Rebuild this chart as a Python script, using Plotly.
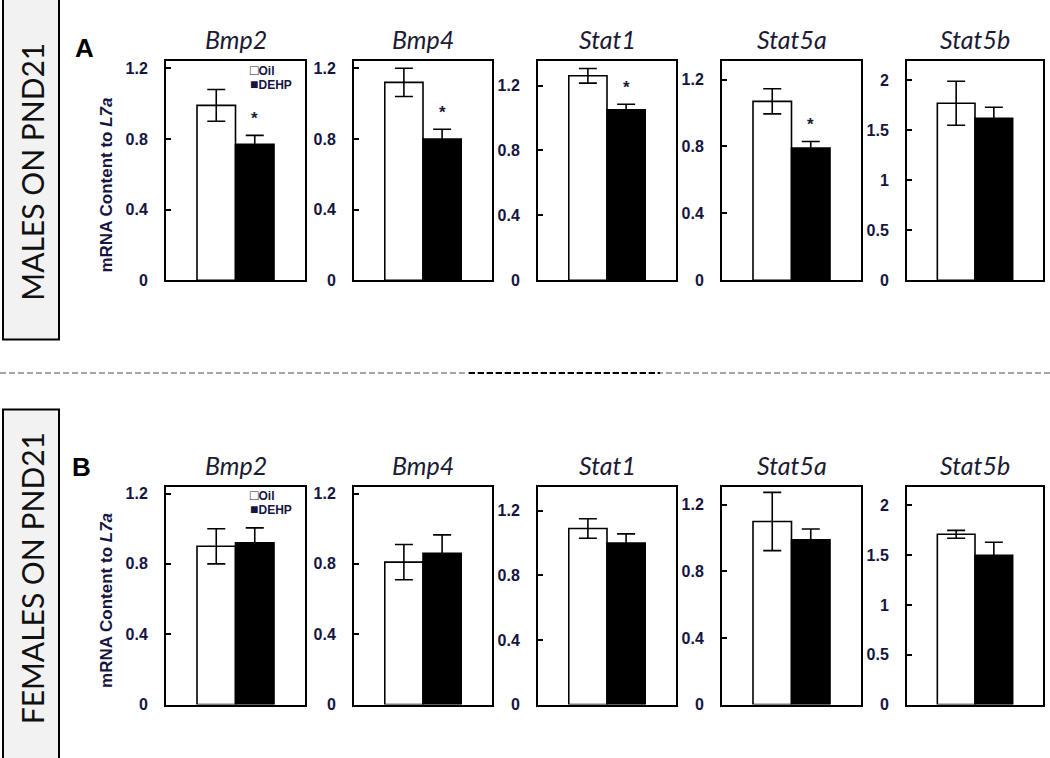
import plotly.graph_objects as go

# ---------------- data ----------------
genes = ["Bmp2", "Bmp4", "Stat1", "Stat5a", "Stat5b"]

males_oil = [0.99, 1.12, 1.26, 1.07, 1.77]
males_oil_err = [0.09, 0.08, 0.045, 0.075, 0.22]
males_dehp = [0.77, 0.80, 1.05, 0.79, 1.62]
males_dehp_err = [0.05, 0.055, 0.035, 0.04, 0.11]
males_sig = [True, True, True, True, False]

females_oil = [0.90, 0.81, 1.09, 1.10, 1.71]
females_oil_err = [0.10, 0.10, 0.06, 0.175, 0.04]
females_dehp = [0.92, 0.86, 1.00, 0.99, 1.50]
females_dehp_err = [0.085, 0.105, 0.057, 0.065, 0.13]
females_sig = [False, False, False, False, False]

y_max = [1.24, 1.24, 1.35, 1.31, 2.19]
y_ticks = [[0, 0.4, 0.8, 1.2]] * 4 + [[0, 0.5, 1, 1.5, 2]]

row_labels = ["MALES ON PND21", "FEMALES ON PND21"]
panel_letters = ["A", "B"]
series_names = ["Oil", "DEHP"]
y_title = "<b>mRNA Content to <i>L7a</i></b>"

# ---------------- layout geometry (pixels) ----------------
W, H = 1050, 758
frame_x = [(166, 305), (354, 492), (538, 676), (722, 861), (907, 1043)]
row_y = [(61, 283), (492, 713)]
y_title_center = [187, 608]
letter_pos = [(84, 48), (81, 472)]
box_spans = [(-10, 343), (414, 770)]
box_label_center = [173, 585]
BARGAP = 0.446

def px_x(x):
    return x / W

def px_y(y):
    return 1 - y / H

SANS = "Arial"
TICK_COLOR = "#15153f"
TICK_FONT = dict(family=SANS, size=16, color=TICK_COLOR, weight="bold")
TITLE_FONT = dict(family="Lato", size=25, color="#1b1b33", style="italic")

fig = go.Figure()
annotations = []
shapes = []

rows = [
    (males_oil, males_oil_err, males_dehp, males_dehp_err, males_sig),
    (females_oil, females_oil_err, females_dehp, females_dehp_err, females_sig),
]

layout_axes = {}
for r, (oil, oil_e, dehp, dehp_e, sig) in enumerate(rows):
    y0, y1 = row_y[r]
    for i, g in enumerate(genes):
        n = r * 5 + i + 1
        xa = f"x{n}"
        ya = f"y{n}"
        fig.add_trace(go.Bar(
            x=[g], y=[oil[i]], name=series_names[0], xaxis=xa, yaxis=ya,
            marker=dict(color="white", line=dict(color="black", width=1.6)),
            error_y=dict(type="data", array=[oil_e[i]], color="black", thickness=1.6, width=9),
            showlegend=False, offsetgroup="oil",
        ))
        fig.add_trace(go.Bar(
            x=[g], y=[dehp[i]], name=series_names[1], xaxis=xa, yaxis=ya,
            marker=dict(color="black", line=dict(color="black", width=1.6)),
            error_y=dict(type="data", array=[dehp_e[i]], color="black", thickness=1.6, width=9),
            showlegend=False, offsetgroup="dehp",
        ))
        fx0, fx1 = frame_x[i]
        suffix = "" if n == 1 else str(n)
        layout_axes["xaxis" + suffix] = dict(
            domain=[px_x(fx0), px_x(fx1)], anchor=ya, type="category",
            range=[-0.5, 0.5], showline=True, mirror=True, linecolor="black",
            linewidth=2, ticks="", showticklabels=False, showgrid=False,
            zeroline=False, fixedrange=True,
        )
        layout_axes["yaxis" + suffix] = dict(
            domain=[px_y(y1), px_y(y0)], anchor=xa, range=[0, y_max[i]],
            tickvals=y_ticks[i], ticks="inside", ticklen=5, tickwidth=1.5,
            tickcolor="black", showline=True, mirror=True, linecolor="black",
            linewidth=2, showgrid=False, zeroline=False, tickfont=TICK_FONT,
            ticklabelstandoff=13, fixedrange=True,
        )
        # gene title
        annotations.append(dict(
            text=g, x=px_x((fx0 + fx1) / 2), y=px_y(y0 - 22), xref="paper", yref="paper",
            xanchor="center", yanchor="middle", showarrow=False, font=TITLE_FONT,
        ))
        # significance asterisk above the DEHP bar
        if sig[i]:
            annotations.append(dict(
                text="<b>*</b>", x=(1 - BARGAP) / 4, y=dehp[i] + dehp_e[i],
                xref=xa, yref=ya, xanchor="center", yanchor="bottom", yshift=5,
                showarrow=False, font=dict(family=SANS, size=17, color="#1b1b33"),
            ))

    # y-axis title on first panel of the row
    annotations.append(dict(
        text=y_title, x=px_x(107), y=px_y(y_title_center[r]), xref="paper", yref="paper",
        xanchor="center", yanchor="middle", textangle=-90, showarrow=False,
        font=dict(family=SANS, size=17, color="#15153f"),
    ))
    # legend (inside first panel)
    annotations.append(dict(
        text="<b><span style='font-size:14px'>□</span>Oil</b>", x=px_x(248), y=px_y(y0 + 9),
        xref="paper", yref="paper", xanchor="left", yanchor="middle", showarrow=False,
        font=dict(family=SANS, size=12, color="#15153f"),
    ))
    annotations.append(dict(
        text="<b><span style='font-size:14px'>■</span>DEHP</b>", x=px_x(248), y=px_y(y0 + 23),
        xref="paper", yref="paper", xanchor="left", yanchor="middle", showarrow=False,
        font=dict(family=SANS, size=12, color="#15153f"),
    ))
    # panel letter
    lx, ly = letter_pos[r]
    annotations.append(dict(text=f"<b>{panel_letters[r]}</b>", x=px_x(lx), y=px_y(ly),
                            xref="paper", yref="paper", xanchor="center", yanchor="middle",
                            showarrow=False, font=dict(family=SANS, size=26, color="black")))
    # side box with row label
    b0, b1 = box_spans[r]
    shapes.append(dict(type="rect", xref="paper", yref="paper", x0=px_x(3), x1=px_x(59),
                       y0=px_y(b1), y1=px_y(b0), fillcolor="#f2f2f2",
                       line=dict(color="black", width=2), layer="below"))
    annotations.append(dict(text=row_labels[r], x=px_x(32), y=px_y(box_label_center[r]),
                            xref="paper", yref="paper", xanchor="center", yanchor="middle",
                            textangle=-90, showarrow=False,
                            font=dict(family="Lato", size=30, color="#111111")))

# dashed separator
shapes.append(dict(type="line", xref="paper", yref="paper", x0=0, x1=1,
                   y0=px_y(377), y1=px_y(377),
                   line=dict(color="#a6a6a6", width=2, dash="6px,3px")))
shapes.append(dict(type="line", xref="paper", yref="paper", x0=px_x(469), x1=px_x(660),
                   y0=px_y(377), y1=px_y(377),
                   line=dict(color="black", width=2, dash="6px,3px")))

fig.update_layout(
    width=W, height=H, margin=dict(l=0, r=0, t=0, b=0),
    paper_bgcolor="white", plot_bgcolor="white",
    barmode="group", bargap=BARGAP, bargroupgap=0,
    showlegend=False, annotations=annotations, shapes=shapes,
    **layout_axes,
)

fig.write_html("out.html", config={"displayModeBar": False},
               post_script="document.body.style.margin='0px';")
